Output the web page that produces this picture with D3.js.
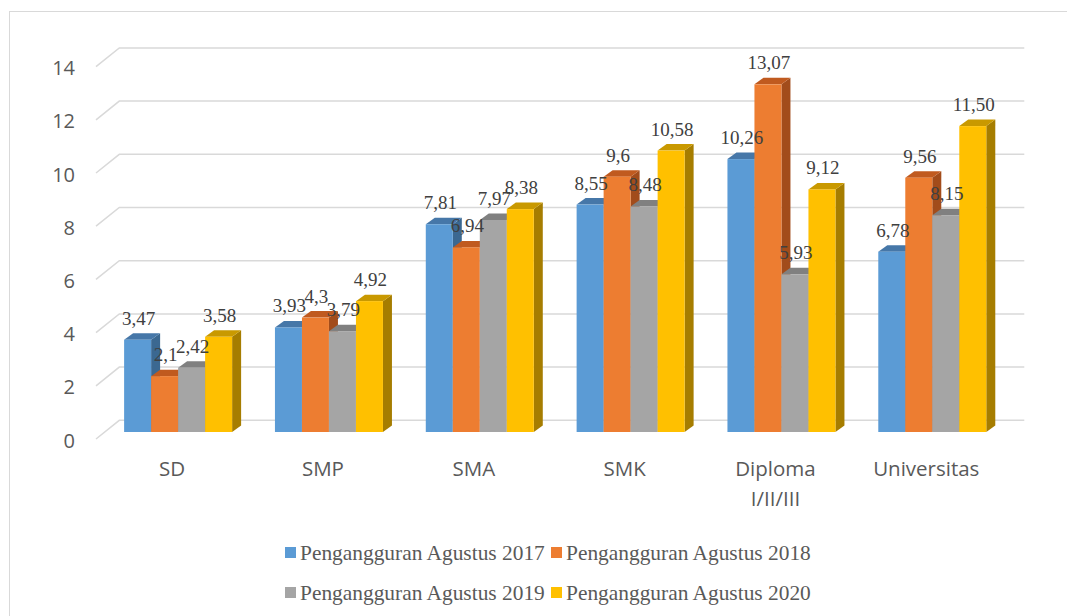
<!DOCTYPE html>
<html>
<head>
<meta charset="utf-8">
<script src="https://cdn.jsdelivr.net/npm/d3@7"></script>
<style>
  body { margin: 0; background: #fff; }
</style>
</head>
<body>
<div id="chart"></div>
<script>
// chart values
const categories = ["SD", "SMP", "SMA", "SMK", "Diploma\nI/II/III", "Universitas"];
const seriesNames = [
  "Pengangguran Agustus 2017",
  "Pengangguran Agustus 2018",
  "Pengangguran Agustus 2019",
  "Pengangguran Agustus 2020",
];
const values2017 = [3.47, 3.93, 7.81, 8.55, 10.26, 6.78];
const values2018 = [2.1, 4.3, 6.94, 9.6, 13.07, 9.56];
const values2019 = [2.42, 3.79, 7.97, 8.48, 5.93, 8.15];
const values2020 = [3.58, 4.92, 8.38, 10.58, 9.12, 11.5];
const labels2017 = ["3,47", "3,93", "7,81", "8,55", "10,26", "6,78"];
const labels2018 = ["2,1", "4,3", "6,94", "9,6", "13,07", "9,56"];
const labels2019 = ["2,42", "3,79", "7,97", "8,48", "5,93", "8,15"];
const labels2020 = ["3,58", "4,92", "8,38", "10,58", "9,12", "11,50"];
const yTicks = [0, 2, 4, 6, 8, 10, 12, 14];

const width = 1067;
const height = 616;

// front, top and side colours of each series
const colors = [
  { front: "#5b9bd5", top: "#4677a8", side: "#3b6891" },
  { front: "#ed7d31", top: "#c05a1f", side: "#a24c1b" },
  { front: "#a5a5a5", top: "#808080", side: "#6f6f6f" },
  { front: "#ffc000", top: "#c99900", side: "#a67d00" },
];

const series = [
  { values: values2017, labels: labels2017 },
  { values: values2018, labels: labels2018 },
  { values: values2019, labels: labels2019 },
  { values: values2020, labels: labels2020 },
];

const svg = d3
  .select("#chart")
  .append("svg")
  .attr("width", width)
  .attr("height", height);

// outer frame (left and top edges visible)
svg
  .append("rect")
  .attr("x", 9.5)
  .attr("y", 11.5)
  .attr("width", width + 20)
  .attr("height", height + 20)
  .attr("fill", "none")
  .attr("stroke", "#d9d9d9");

// scales
const x0 = d3.scaleBand().domain(categories).range([119.3, 1024.3]).padding(0);
const x1 = d3.scaleBand().domain(d3.range(4)).range([0, 108]).padding(0);
const y = d3.scaleLinear().domain([0, 14]).range([432, 432 - 14 * 26.6]);

const wallDx = 23.3; // side wall depth
const wallBack = -11.7; // back wall relative to bar fronts
const wallFront = 7; // front edge of side wall
const depthX = 9; // bar depth
const depthY = -6.5;
const groupShift = -16.6;

// gridlines on the walls
const grid = svg.append("g").attr("stroke", "#d9d9d9").attr("stroke-width", 1.5).attr("fill", "none");
yTicks.forEach((t) => {
  grid
    .append("path")
    .attr(
      "d",
      `M${119.3 - wallDx},${y(t) + wallFront}L119.3,${y(t) + wallBack}L1024.3,${y(t) + wallBack}`,
    );
});

// y tick labels
svg
  .append("g")
  .selectAll("text")
  .data(yTicks)
  .join("text")
  .attr("x", 75)
  .attr("y", (d) => y(d) + wallFront + 1)
  .attr("text-anchor", "end")
  .attr("dominant-baseline", "central")
  .attr("font-family", "Open Sans, sans-serif")
  .attr("font-size", 20)
  .attr("fill", "#595959")
  .text((d) => d);

// bars, drawn left to right so later bars overlap earlier side faces
const bars = svg.append("g");
categories.forEach((cat, ci) => {
  series.forEach((s, si) => {
    const v = s.values[ci];
    const left = x0(cat) + x0.bandwidth() / 2 - 54 + groupShift + x1(si);
    const right = left + x1.bandwidth();
    const top = y(v);
    const bottom = y(0);
    const c = colors[si];
    // side face
    bars
      .append("path")
      .attr(
        "d",
        `M${right},${top}L${right + depthX},${top + depthY}L${right + depthX},${bottom + depthY}L${right},${bottom}Z`,
      )
      .attr("fill", c.side);
    // top face
    bars
      .append("path")
      .attr(
        "d",
        `M${left},${top}L${left + depthX},${top + depthY}L${right + depthX},${top + depthY}L${right},${top}Z`,
      )
      .attr("fill", c.top);
    // front face
    bars
      .append("rect")
      .attr("x", left)
      .attr("y", top)
      .attr("width", right - left)
      .attr("height", bottom - top)
      .attr("fill", c.front);
  });
});

// data labels
const labelsG = svg.append("g");
categories.forEach((cat, ci) => {
  series.forEach((s, si) => {
    const left = x0(cat) + x0.bandwidth() / 2 - 54 + groupShift + x1(si);
    labelsG
      .append("text")
      .attr("x", left + x1.bandwidth() / 2 + 1)
      .attr("y", y(s.values[ci]) - 15)
      .attr("text-anchor", "middle")
      .attr("font-family", "Liberation Serif, Times New Roman, serif")
      .attr("font-size", 19)
      .attr("fill", "#404040")
      .text(s.labels[ci]);
  });
});

// category labels
const catG = svg.append("g");
categories.forEach((cat) => {
  const cx = x0(cat) + x0.bandwidth() / 2 - 22.6;
  const t = catG
    .append("text")
    .attr("text-anchor", "middle")
    .attr("font-family", "Open Sans, sans-serif")
    .attr("font-size", 20.5)
    .attr("fill", "#595959");
  cat.split("\n").forEach((line, li) => {
    t.append("tspan")
      .attr("x", cx)
      .attr("y", 468 + li * 30)
      .attr("dominant-baseline", "central")
      .text(line);
  });
});

// legend
const legendPos = [
  { x: 285, y: 552.5 },
  { x: 551, y: 552.5 },
  { x: 285, y: 592.5 },
  { x: 551, y: 592.5 },
];
seriesNames.forEach((name, i) => {
  const g = svg.append("g").attr("transform", `translate(${legendPos[i].x},${legendPos[i].y})`);
  g.append("rect")
    .attr("x", 0)
    .attr("y", -5.5)
    .attr("width", 11)
    .attr("height", 11)
    .attr("fill", colors[i].front);
  g.append("text")
    .attr("x", 15)
    .attr("y", 7)
    .attr("font-family", "Liberation Serif, Times New Roman, serif")
    .attr("font-size", 21.4)
    .attr("fill", "#595959")
    .text(name);
});
</script>
</body>
</html>
